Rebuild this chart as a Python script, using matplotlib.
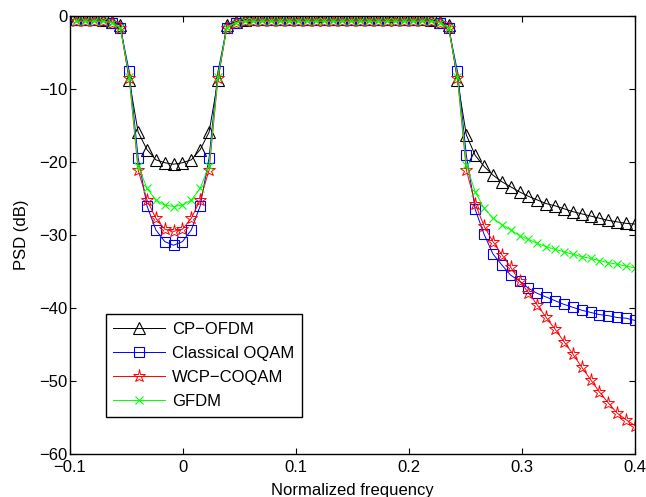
"""PSD comparison of CP-OFDM, OQAM, WCP-COQAM and GFDM."""

import numpy as np
import matplotlib
matplotlib.use("Agg")
import matplotlib.pyplot as plt

# normalized frequency grid of the simulated spectrum (64 bins)
freq = np.linspace(-0.0947, 0.3999, 64)

psd_cp_ofdm = [
    -0.4, -0.4, -0.4, -0.5, -0.8, -1.2,
    -8.8, -15.9, -18.3, -19.7, -20.1, -20.3, -20.1, -19.7, -18.3, -15.9, -8.8,
    -1.2, -0.8,
    -0.5, -0.4, -0.4, -0.4, -0.4, -0.4, -0.4, -0.4, -0.4, -0.4, -0.4,
    -0.4, -0.4, -0.4, -0.4, -0.4, -0.4, -0.4, -0.4, -0.4, -0.4, -0.5,
    -0.8, -1.2,
    -8.8, -16.3, -19.1,
    -20.6, -21.8, -22.7, -23.4, -24.1, -24.7, -25.2, -25.7, -26.0,
    -26.4, -26.8, -27.1, -27.4, -27.7, -28.0, -28.2, -28.4, -28.5,
]

psd_oqam = [
    -0.6, -0.6, -0.6, -0.6, -0.9, -1.6,
    -7.6, -19.4, -26.0, -29.3, -30.9, -31.4, -30.9, -29.3, -26.0, -19.4, -7.6,
    -1.6, -0.9,
    -0.6, -0.6, -0.6, -0.6, -0.6, -0.6, -0.6, -0.6, -0.6, -0.6, -0.6,
    -0.6, -0.6, -0.6, -0.6, -0.6, -0.6, -0.6, -0.6, -0.6, -0.6, -0.6,
    -0.9, -1.6,
    -7.6, -19.1, -26.5,
    -29.9, -32.6, -34.1, -35.5, -36.3, -37.3, -38.0, -38.5, -39.0,
    -39.5, -39.9, -40.3, -40.6, -40.9, -41.05, -41.3, -41.4, -41.7,
]

psd_wcp_coqam = [
    -0.7, -0.7, -0.7, -0.7, -0.9, -1.7,
    -8.5, -21.1, -25.2, -27.7, -29.2, -29.5, -29.2, -27.7, -25.2, -21.1, -8.5,
    -1.7, -0.9,
    -0.7, -0.7, -0.7, -0.7, -0.7, -0.7, -0.7, -0.7, -0.7, -0.7, -0.7,
    -0.7, -0.7, -0.7, -0.7, -0.7, -0.7, -0.7, -0.7, -0.7, -0.7, -0.7,
    -0.9, -1.7,
    -8.5, -21.1, -25.7,
    -28.8, -30.9, -32.7, -34.4, -36.3, -37.9, -39.6, -41.3, -42.9,
    -44.6, -46.3, -48.1, -49.8, -51.5, -53.0, -54.4, -55.3, -56.1,
]

psd_gfdm = [
    -0.7, -0.7, -0.7, -0.7, -0.9, -1.6,
    -8.3, -20.5, -23.6, -25.2, -25.9, -26.1, -25.9, -25.2, -23.6, -20.5, -8.3,
    -1.6, -0.9,
    -0.7, -0.7, -0.7, -0.7, -0.7, -0.7, -0.7, -0.7, -0.7, -0.7, -0.7,
    -0.7, -0.7, -0.7, -0.7, -0.7, -0.7, -0.7, -0.7, -0.7, -0.7, -0.7,
    -0.9, -1.6,
    -8.3, -20.4, -24.1,
    -26.35, -27.7, -28.6, -29.3, -30.1, -30.6, -31.15, -31.6, -31.97,
    -32.3, -32.65, -32.97, -33.2, -33.5, -33.8, -34.0, -34.25, -34.5,
]

x_ticks = [-0.1, 0, 0.1, 0.2, 0.3, 0.4]
x_tick_labels = ["\u22120.1", "0", "0.1", "0.2", "0.3", "0.4"]
y_ticks = [-60, -50, -40, -30, -20, -10, 0]

plt.rcParams["font.family"] = ["Liberation Sans", "DejaVu Sans"]
plt.rcParams["font.size"] = 12

fig = plt.figure(figsize=(6.46, 4.97), dpi=100)
ax = fig.add_axes([0.1084, 0.0865, 0.8746, 0.8813])

ax.plot(freq, psd_cp_ofdm, color="black", lw=0.7, marker="^", ms=8,
        mfc="none", mec="black", mew=0.8, label="CP\u2212OFDM")
ax.plot(freq, psd_oqam, color="blue", lw=0.7, marker="s", ms=6.5,
        mfc="none", mec="blue", mew=0.8, label="Classical OQAM")
ax.plot(freq, psd_wcp_coqam, color="red", lw=0.7, marker="*", ms=9.5,
        mfc="none", mec="red", mew=0.7, label="WCP\u2212COQAM")
ax.plot(freq, psd_gfdm, color="#00ff00", lw=0.7, marker="x", ms=6,
        mec="#00ff00", mew=0.8, label="GFDM")

ax.set_xlim(-0.1, 0.4)
ax.set_ylim(-60, 0)
ax.set_xticks(x_ticks)
ax.set_xticklabels(x_tick_labels)
ax.set_yticks(y_ticks)
ax.tick_params(direction="in", top=True, right=True, length=4, width=0.8, pad=2)
ax.tick_params(axis="x", pad=4)
for sp in ax.spines.values():
    sp.set_linewidth(1.0)

ax.set_xlabel("Normalized frequency", labelpad=6)
ax.set_ylabel("PSD (dB)", labelpad=7)

leg = ax.legend(loc="lower left", bbox_to_anchor=(0.063, 0.085), borderaxespad=0,
                fancybox=False, edgecolor="black", framealpha=1,
                handlelength=3.1, handletextpad=0.45, labelspacing=0.55, borderpad=0.45)
leg.get_frame().set_linewidth(1.0)

fig.savefig("out.png", dpi=100)
